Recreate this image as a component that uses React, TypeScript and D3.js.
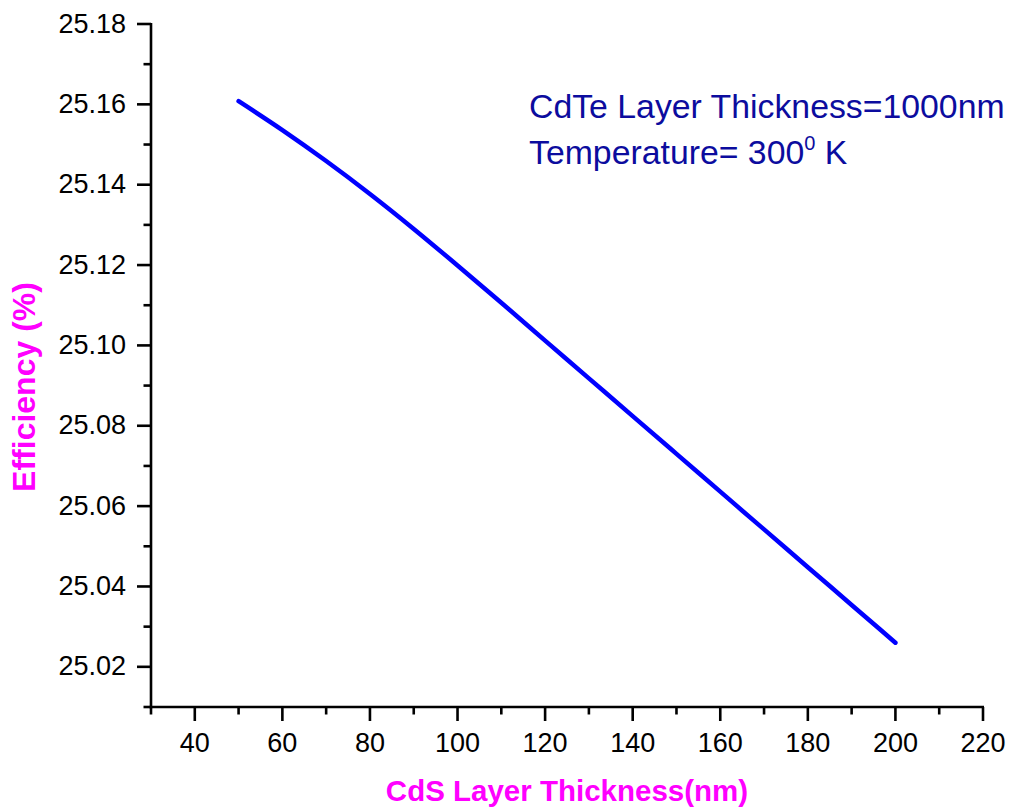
import React, { useEffect, useRef } from "react";
import * as d3 from "d3";

const thickness = [50, 60, 70, 80, 90, 100, 110, 120, 130, 140, 150, 160, 170, 180, 190, 200];
const efficiency = [
  25.1608, 25.1536, 25.1459, 25.1377, 25.129, 25.1199, 25.1106, 25.1012, 25.0918, 25.0824,
  25.073, 25.0636, 25.0542, 25.0448, 25.0354, 25.026,
];
const xMajorTicks = [40, 60, 80, 100, 120, 140, 160, 180, 200, 220];
const xMinorTicks = [30, 50, 70, 90, 110, 130, 150, 170, 190, 210];
const yMajorTicks = [25.02, 25.04, 25.06, 25.08, 25.1, 25.12, 25.14, 25.16, 25.18];
const yMinorTicks = [25.01, 25.03, 25.05, 25.07, 25.09, 25.11, 25.13, 25.15, 25.17];
const xTitle = "CdS Layer Thickness(nm)";
const yTitle = "Efficiency (%)";
const note1 = "CdTe Layer Thickness=1000nm";
const note2a = "Temperature= 300";
const note2sup = "0";
const note2b = " K";

const W = 1011;
const H = 809;
const FONT = "Arial, 'Liberation Sans', Helvetica, sans-serif";

export default function App() {
  const ref = useRef<SVGSVGElement>(null);

  useEffect(() => {
    const svg = d3.select(ref.current);
    svg.selectAll("*").remove();

    const x = d3.scaleLinear().domain([30, 220]).range([151, 983]);
    const y = d3.scaleLinear().domain([25.01, 25.18]).range([707, 24]);

    const axisColor = "#000";
    const g = svg.append("g");

    g.append("line")
      .attr("x1", x(30)).attr("x2", x(30))
      .attr("y1", y(25.18) - 1).attr("y2", y(25.01) + 1.3)
      .attr("stroke", axisColor).attr("stroke-width", 2.6);
    g.append("line")
      .attr("x1", x(30) - 1.3).attr("x2", x(220) + 1)
      .attr("y1", y(25.01)).attr("y2", y(25.01))
      .attr("stroke", axisColor).attr("stroke-width", 2.6);

    g.selectAll(".xmaj").data(xMajorTicks).enter().append("line")
      .attr("x1", (d) => x(d)).attr("x2", (d) => x(d))
      .attr("y1", y(25.01)).attr("y2", y(25.01) + 14)
      .attr("stroke", axisColor).attr("stroke-width", 2.6);
    g.selectAll(".xmin").data(xMinorTicks).enter().append("line")
      .attr("x1", (d) => x(d)).attr("x2", (d) => x(d))
      .attr("y1", y(25.01)).attr("y2", y(25.01) + 7.5)
      .attr("stroke", axisColor).attr("stroke-width", 2.6);
    g.selectAll(".xlab").data(xMajorTicks).enter().append("text")
      .attr("x", (d) => x(d)).attr("y", 752)
      .attr("text-anchor", "middle")
      .attr("font-family", FONT).attr("font-size", 27).attr("fill", "#000")
      .text((d) => String(d));

    g.selectAll(".ymaj").data(yMajorTicks).enter().append("line")
      .attr("x1", x(30) - 14).attr("x2", x(30))
      .attr("y1", (d) => y(d)).attr("y2", (d) => y(d))
      .attr("stroke", axisColor).attr("stroke-width", 2.6);
    g.selectAll(".ymin").data(yMinorTicks).enter().append("line")
      .attr("x1", x(30) - 7.5).attr("x2", x(30))
      .attr("y1", (d) => y(d)).attr("y2", (d) => y(d))
      .attr("stroke", axisColor).attr("stroke-width", 2.6);
    g.selectAll(".ylab").data(yMajorTicks).enter().append("text")
      .attr("x", 126).attr("y", (d) => y(d) + 8.5)
      .attr("text-anchor", "end")
      .attr("font-family", FONT).attr("font-size", 27).attr("fill", "#000")
      .text((d) => d3.format(".2f")(d));

    const pts = thickness.map((t, i) => [t, efficiency[i]] as [number, number]);
    const line = d3.line<[number, number]>()
      .x((d) => x(d[0]))
      .y((d) => y(d[1]))
      .curve(d3.curveMonotoneX);
    g.append("path")
      .attr("d", line(pts) || "")
      .attr("fill", "none")
      .attr("stroke", "#0000ff")
      .attr("stroke-width", 4.5)
      .attr("stroke-linecap", "round")
      .attr("stroke-linejoin", "round");

    g.append("text")
      .attr("x", 567).attr("y", 801)
      .attr("text-anchor", "middle")
      .attr("font-family", FONT).attr("font-weight", "bold")
      .attr("font-size", 29.5).attr("fill", "#ff00ff")
      .text(xTitle);
    g.append("text")
      .attr("transform", "translate(35,387) rotate(-90)")
      .attr("text-anchor", "middle")
      .attr("font-family", FONT).attr("font-weight", "bold")
      .attr("font-size", 32).attr("fill", "#ff00ff")
      .text(yTitle);

    const noteColor = "#0c0c9e";
    g.append("text")
      .attr("x", 529).attr("y", 118)
      .attr("font-family", FONT).attr("font-size", 33.8).attr("fill", noteColor)
      .text(note1);
    const t2 = g.append("text")
      .attr("x", 529).attr("y", 164)
      .attr("font-family", FONT).attr("font-size", 33.8).attr("fill", noteColor);
    t2.append("tspan").text(note2a);
    t2.append("tspan").attr("dy", -14).attr("font-size", 20).text(note2sup);
    t2.append("tspan").attr("dy", 14).attr("font-size", 33.8).text(note2b);
  }, []);

  return (
    <svg
      ref={ref}
      width={W}
      height={H}
      style={{ position: "absolute", left: 0, top: 0, background: "#fff" }}
    />
  );
}
